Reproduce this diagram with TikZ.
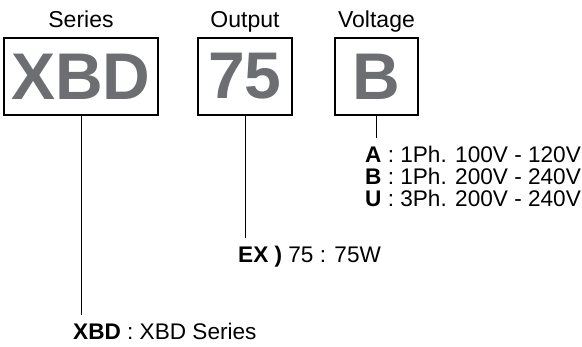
\documentclass[tikz,border=0pt]{standalone}
\usepackage{fontspec}
\setmainfont{Liberation Sans}
\usepackage{xcolor}
\usepackage{tikz}
\usetikzlibrary{positioning}
\definecolor{codegray}{HTML}{6D6E71}

\begin{document}
\begin{tikzpicture}[x=1pt,y=-1pt,
  codebox/.style={draw,line width=1.8pt,inner sep=0pt,minimum height=77pt,
    text=codegray,font=\fontsize{66}{66}\selectfont\bfseries},
  fieldname/.style={inner sep=0pt,anchor=base,font=\fontsize{23}{23}\selectfont},
  desc/.style={inner sep=0pt,font=\fontsize{22.6}{22}\selectfont,align=left}]
  \useasboundingbox (0,0) rectangle (582,347);

  \node[codebox,minimum width=154pt] (series) at (81,76.5) {XBD};
  \node[codebox,minimum width=94pt] (output) at (245,76.5) {75};
  \node[codebox,minimum width=83pt] (voltage) at (376.5,76.5) {B};

  \node[fieldname] (serieslbl) at ([yshift=10pt]series.north) {Series};
  \node[fieldname] (outputlbl) at ([yshift=10pt]output.north) {Output};
  \node[fieldname] (voltagelbl) at ([yshift=10pt]voltage.north) {Voltage};

  % base of a multi-line node is the last line
  \node[desc,anchor=base west] (voltagedesc) at (365,207)
    {\textbf{A} : 1Ph. 100V - 120V\\\textbf{B} : 1Ph. 200V - 240V\\\textbf{U} : 3Ph. 200V - 240V};
  \node[desc,anchor=base west] (outputdesc) at (238,263) {\textbf{EX )} 75 : 75W};
  \node[desc,anchor=base west] (seriesdesc) at (73,340) {\textbf{XBD} : XBD Series};

  \draw[line width=.9pt] (voltage.south) -- ([yshift=8pt]voltagedesc.north -| voltage.south);
  \draw[line width=.9pt] (output.south) -- ([yshift=8pt]outputdesc.north -| output.south);
  \draw[line width=.9pt] (series.south) -- ([yshift=8pt]seriesdesc.north -| series.south);
\end{tikzpicture}
\end{document}
